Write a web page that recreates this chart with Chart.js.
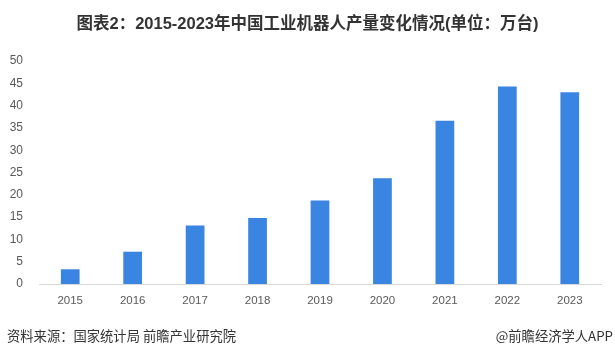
<!DOCTYPE html>
<html><head><meta charset="utf-8">
<script src="https://cdn.jsdelivr.net/npm/chart.js@4"></script>
<style>
html,body{margin:0;padding:0;background:#fff;}
#wrap{position:relative;width:615px;height:357px;overflow:hidden;}
#title{position:absolute;left:0;top:10px;width:615px;text-align:center;font:bold 16.5px "Liberation Sans","Noto Sans CJK SC",sans-serif;color:#333;}
.foot{position:absolute;top:326px;font:13.3px "Noto Sans CJK SC",sans-serif;color:#333;line-height:20px;}
canvas{position:absolute;left:0;top:0;}
</style></head>
<body><div id="wrap">
<canvas id="c" width="615" height="357"></canvas>
<div id="title">图表2：2015-2023年中国工业机器人产量变化情况(单位：万台)</div>
<div class="foot" style="left:7px">资料来源：国家统计局 前瞻产业研究院</div>
<div class="foot" style="right:2px">@前瞻经济学人APP</div>
</div>
<script>
const categories = ["2015","2016","2017","2018","2019","2020","2021","2022","2023"];
const production = [3.3, 7.24, 13.1, 14.8, 18.7, 23.7, 36.6, 44.3, 43.0];
const yTicks = [0,5,10,15,20,25,30,35,40,45,50];

new Chart(document.getElementById('c'), {
  type: 'bar',
  data: { labels: categories, datasets: [{ data: production, backgroundColor: '#3a84e2', barPercentage: 0.6, categoryPercentage: 0.5 }] },
  options: {
    responsive: false, animation: false,
    layout: { padding: { top: 61, right: 14, bottom: 43, left: 0 } },
    plugins: { legend: { display: false }, tooltip: { enabled: false } },
    scales: {
      x: {
        grid: { display: false, drawTicks: false },
        border: { color: '#d9d9d9', width: 1 },
        ticks: { color: '#595959', font: { size: 11.5, family: 'Liberation Sans' }, padding: 10 },
        afterFit: s => { s.height = 30; }
      },
      y: {
        min: 0, max: 50,
        afterBuildTicks: s => { s.ticks = yTicks.map(v => ({ value: v })); },
        grid: { display: false, drawTicks: false },
        border: { display: false },
        ticks: { color: '#595959', font: { size: 12, family: 'Liberation Sans' }, padding: 16 },
        afterFit: s => { s.width = 39; }
      }
    }
  }
});
</script>
</body></html>
